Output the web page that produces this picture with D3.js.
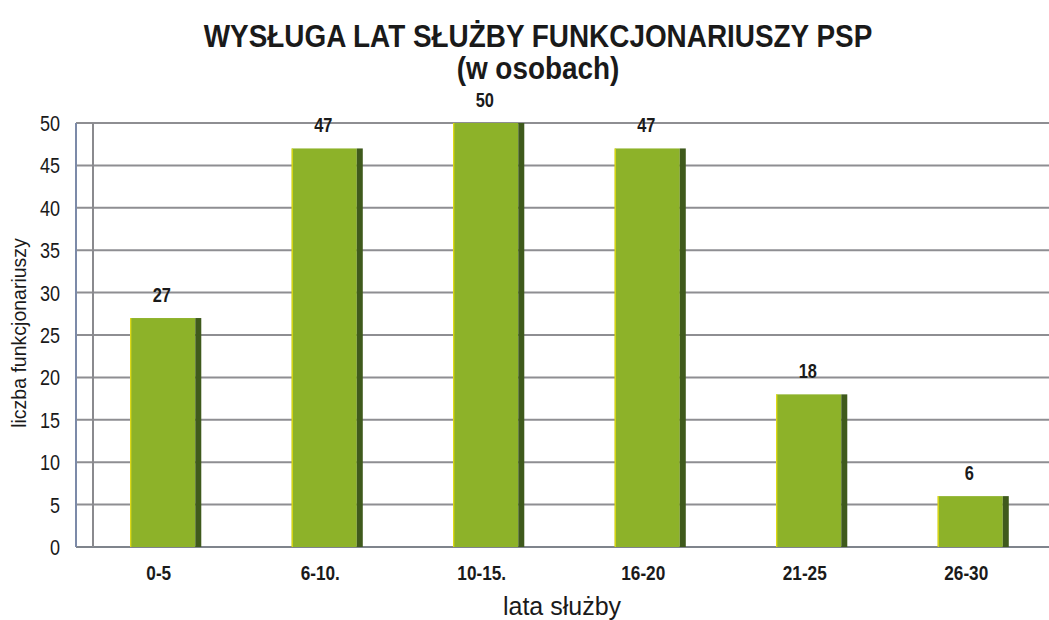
<!DOCTYPE html>
<html>
<head>
<meta charset="utf-8">
<script src="https://cdn.jsdelivr.net/npm/d3@7"></script>
<style>
  html, body { margin: 0; padding: 0; background: #fff; }
  svg { display: block; }
</style>
</head>
<body>
<div id="chart"></div>
<script>
'use strict';

// Dane
const categories = ['0-5', '6-10.', '10-15.', '16-20', '21-25', '26-30'];
const values = [27, 47, 50, 47, 18, 6];
const yTicks = [0, 5, 10, 15, 20, 25, 30, 35, 40, 45, 50];

const width = 1049;
const height = 620;
const font = 'Liberation Sans, Arial, sans-serif';
const ink = '#1a1a1a';
const narrowX = 0.82; // zwężenie tekstu (imitacja Arial Narrow)

const svg = d3.select('#chart').append('svg')
  .attr('width', width)
  .attr('height', height);

const x = d3.scaleBand()
  .domain(categories)
  .range([85, 1054])
  .paddingInner(0.56)
  .paddingOuter(0.28);

const y = d3.scaleLinear()
  .domain([0, 50])
  .range([547, 123]);

const depth = 6; // boczna ścianka słupka (efekt 3D)

// siatka pozioma
svg.append('g')
  .selectAll('line')
  .data(yTicks)
  .join('line')
    .attr('x1', 76).attr('x2', width)
    .attr('y1', d => y(d)).attr('y2', d => y(d))
    .attr('stroke', d => d === 0 ? '#7f848c' : '#8e8e92')
    .attr('stroke-width', 2);

// ściany wykresu (lewa krawędź + głębokość)
svg.append('line')
  .attr('x1', 76).attr('x2', 76)
  .attr('y1', y(50)).attr('y2', y(0))
  .attr('stroke', '#7c8aa8').attr('stroke-width', 2);
svg.append('line')
  .attr('x1', 93).attr('x2', 93)
  .attr('y1', y(50)).attr('y2', y(0))
  .attr('stroke', '#8a8a8e').attr('stroke-width', 2);

// słupki
const bars = svg.append('g')
  .selectAll('g')
  .data(categories.map((c, i) => ({ c, v: values[i] })))
  .join('g');

bars.append('rect')
  .attr('x', d => x(d.c))
  .attr('y', d => y(d.v))
  .attr('width', x.bandwidth() - depth)
  .attr('height', d => y(0) - y(d.v))
  .attr('fill', '#8db229');

bars.append('rect')
  .attr('x', d => x(d.c) + x.bandwidth() - depth)
  .attr('y', d => y(d.v))
  .attr('width', depth)
  .attr('height', d => y(0) - y(d.v))
  .attr('fill', '#3f5a1c');

bars.append('line')
  .attr('x1', d => x(d.c) + 0.5).attr('x2', d => x(d.c) + 0.5)
  .attr('y1', d => y(d.v)).attr('y2', y(0))
  .attr('stroke', '#e6dc10').attr('stroke-width', 1.2);

// etykiety wartości
bars.append('text')
  .attr('transform', d => `translate(${x(d.c) + x.bandwidth() / 2 - 4},${y(d.v) - 16}) scale(${narrowX},1)`)
  .attr('text-anchor', 'middle')
  .attr('font-family', font)
  .attr('font-size', 20)
  .attr('font-weight', 'bold')
  .attr('fill', ink)
  .text(d => d.v);

// etykiety kategorii
svg.append('g')
  .selectAll('text')
  .data(categories)
  .join('text')
    .attr('transform', d => `translate(${x(d) + x.bandwidth() / 2 - 7},580) scale(${narrowX},1)`)
    .attr('text-anchor', 'middle')
    .attr('font-family', font)
    .attr('font-size', 21)
    .attr('font-weight', 'bold')
    .attr('fill', ink)
    .text(d => d);

// etykiety osi Y
svg.append('g')
  .selectAll('text')
  .data(yTicks)
  .join('text')
    .attr('transform', d => `translate(60,${y(d) + 8}) scale(${narrowX},1)`)
    .attr('text-anchor', 'end')
    .attr('font-family', font)
    .attr('font-size', 22)
    .attr('fill', ink)
    .text(d => d);

// tytuły osi
svg.append('text')
  .attr('transform', `translate(26,${(y(0) + y(50)) / 2 - 2}) rotate(-90)`)
  .attr('text-anchor', 'middle')
  .attr('font-family', font)
  .attr('font-size', 19.5)
  .attr('fill', ink)
  .text('liczba funkcjonariuszy');

svg.append('text')
  .attr('x', 562)
  .attr('y', 615)
  .attr('text-anchor', 'middle')
  .attr('font-family', font)
  .attr('font-size', 25)
  .attr('fill', ink)
  .text('lata służby');

// tytuł
const titleLines = ['WYSŁUGA LAT SŁUŻBY FUNKCJONARIUSZY PSP', '(w osobach)'];
svg.append('g')
  .selectAll('text')
  .data(titleLines)
  .join('text')
    .attr('transform', (d, i) => `translate(538,${47 + i * 32}) scale(0.9,1)`)
    .attr('text-anchor', 'middle')
    .attr('font-family', font)
    .attr('font-size', 31)
    .attr('font-weight', 'bold')
    .attr('fill', ink)
    .text(d => d);
</script>
</body>
</html>
